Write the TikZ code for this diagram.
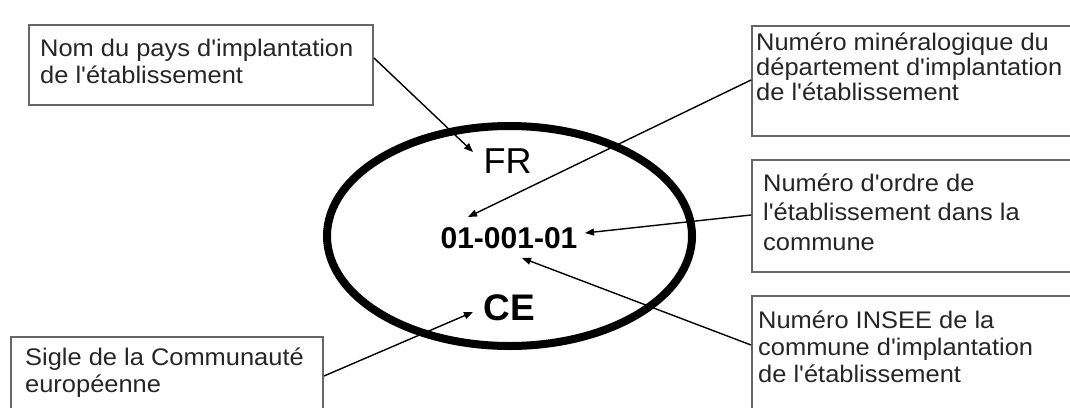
\documentclass[tikz,border=0pt]{standalone}
\usepackage{fontspec}
\setmainfont{Liberation Sans}
\newfontfamily\boxfont[FakeStretch=1.06]{Liberation Sans}
\usetikzlibrary{shapes.geometric,arrows.meta,calc}
\begin{document}
\begin{tikzpicture}[x=1pt,y=-1pt,
  labelbox/.style={draw=black!60, line width=2pt, anchor=north west, inner sep=0pt},
  boxtext/.style={anchor=north west, inner sep=0pt, align=left, text=black!85},
  pointer/.style={line width=1.4pt, -{Triangle[length=9pt,width=7pt]}},
]
\clip (0,0) rectangle (1070,407);
\fill[white] (0,0) rectangle (1070,407);

% oval and its texts
\node[draw, ellipse, line width=8pt, minimum width=365pt, minimum height=220pt, inner sep=0pt] (oval) at (509.5,236) {};
\node[anchor=base, inner sep=0pt, font=\fontsize{36}{36}\selectfont] (fr) at (507.5,173) {FR};
\node[anchor=base, inner sep=0pt, font=\bfseries\fontsize{30}{30}\selectfont] (num) at (509,248) {01-001-01};
\node[anchor=base, inner sep=0pt, font=\bfseries\fontsize{37}{37}\selectfont] (ce) at (509,320) {CE};

% boxes
\node[labelbox, minimum width=344pt, minimum height=80pt] (b1) at (28,24) {};
\node[labelbox, minimum width=340pt, minimum height=110pt] (b2) at (751,25) {};
\node[labelbox, minimum width=340pt, minimum height=112pt] (b3) at (751,159) {};
\node[labelbox, minimum width=340pt, minimum height=118pt] (b4) at (751,295) {};
\node[labelbox, minimum width=312pt, minimum height=85pt] (b5) at (10,336) {};

% box texts
\node[boxtext, font=\boxfont\fontsize{24}{27}\selectfont] (t1) at (40,37)
  {\rule{0pt}{19pt}Nom du pays d'implantation\\de l'établissement};
\node[boxtext, font=\boxfont\fontsize{24}{25}\selectfont] (t2) at (756,31)
  {\rule{0pt}{19pt}Numéro minéralogique du\\département d'implantation\\de l'établissement};
\node[boxtext, font=\boxfont\fontsize{24}{29.5}\selectfont] (t3) at (763,172)
  {\rule{0pt}{19pt}Numéro d'ordre de\\l'établissement dans la\\commune};
\node[boxtext, font=\boxfont\fontsize{24}{27}\selectfont] (t4) at (758,309)
  {\rule{0pt}{19pt}Numéro INSEE de la\\commune d'implantation\\de l'établissement};
\node[boxtext, font=\boxfont\fontsize{24}{27}\selectfont] (t5) at (25,346)
  {\rule{0pt}{19pt}Sigle de la Communauté\\européenne};

% arrow tips
\coordinate (pfr) at (473,152);
\coordinate (pdep) at (468,217);
\coordinate (pord) at (585,233);
\coordinate (pinsee) at (522,258);
\coordinate (pce) at (473,312);

% connectors
\draw[pointer] ($(b1.north east)+(0,34)$) -- (pfr);
\draw[pointer] ($(b2.north west)+(0,55)$) -- (pdep);
\draw[pointer] ($(b3.north west)+(0,56)$) -- (pord);
\draw[pointer] ($(b4.north west)+(0,50)$) -- (pinsee);
\draw[pointer] ($(b5.north east)+(0,40)$) -- (pce);
\end{tikzpicture}
\end{document}
